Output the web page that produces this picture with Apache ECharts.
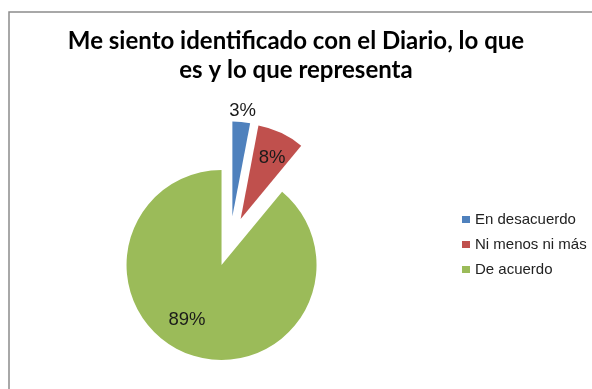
<!DOCTYPE html>
<html>
<head>
<meta charset="utf-8">
<script src="https://cdn.jsdelivr.net/npm/echarts@6/dist/echarts.min.js"></script>
<style>
  html, body { margin: 0; padding: 0; background: #ffffff; }
  #chart { width: 592px; height: 389px; }
</style>
</head>
<body>
<div id="chart"></div>
<script>
// Survey answers and their share of responses (percent)
const categories = ['En desacuerdo', 'Ni menos ni más', 'De acuerdo'];
const values = [3, 8, 89];
const sliceColors = ['#4F81BD', '#C0504D', '#9BBB59'];
const titleText = 'Me siento identificado con el Diario, lo que\nes y lo que representa';

const chart = echarts.init(document.getElementById('chart'), null, { renderer: 'canvas' });

// Nudges applied to each slice's label from its default inside position
const labelNudge = [
  { dx: 5.5, dy: -55 },
  { dx: 10, dy: -15.5 },
  { dx: -17.5, dy: 7 }
];

const option = {
  animation: false,
  backgroundColor: '#ffffff',
  title: {
    text: titleText,
    left: 'center',
    top: 22,
    padding: [5, 5, 5, 15],
    textStyle: {
      fontFamily: 'Lato',
      fontWeight: 'bold',
      fontSize: 24,
      lineHeight: 29,
      color: '#000000'
    }
  },
  legend: {
    orient: 'vertical',
    left: 457,
    top: 207,
    itemWidth: 8,
    itemHeight: 7,
    itemGap: 10,
    icon: 'rect',
    selectedMode: false,
    data: categories,
    textStyle: {
      fontFamily: 'Liberation Sans',
      fontSize: 15,
      color: '#222222'
    }
  },
  graphic: [{
    type: 'rect',
    shape: { x: 9, y: 12, width: 620, height: 420 },
    style: { fill: 'none', stroke: '#8c8c8c', lineWidth: 1.5 },
    silent: true,
    z: -1
  }],
  series: [{
    type: 'pie',
    center: [230, 241.5],
    radius: 95,
    startAngle: 90,
    clockwise: true,
    selectedMode: 'multiple',
    selectedOffset: 25,
    percentPrecision: 0,
    avoidLabelOverlap: false,
    emphasis: { disabled: true },
    label: {
      show: true,
      position: 'inside',
      formatter: '{d}%',
      fontFamily: 'Liberation Sans',
      fontSize: 18.5,
      color: '#1a1a1a'
    },
    labelLine: { show: false },
    labelLayout: function (params) {
      return labelNudge[params.dataIndex];
    },
    data: categories.map(function (name, i) {
      return {
        name: name,
        value: values[i],
        selected: true,
        itemStyle: { color: sliceColors[i] }
      };
    })
  }]
};

chart.setOption(option);
</script>
</body>
</html>
